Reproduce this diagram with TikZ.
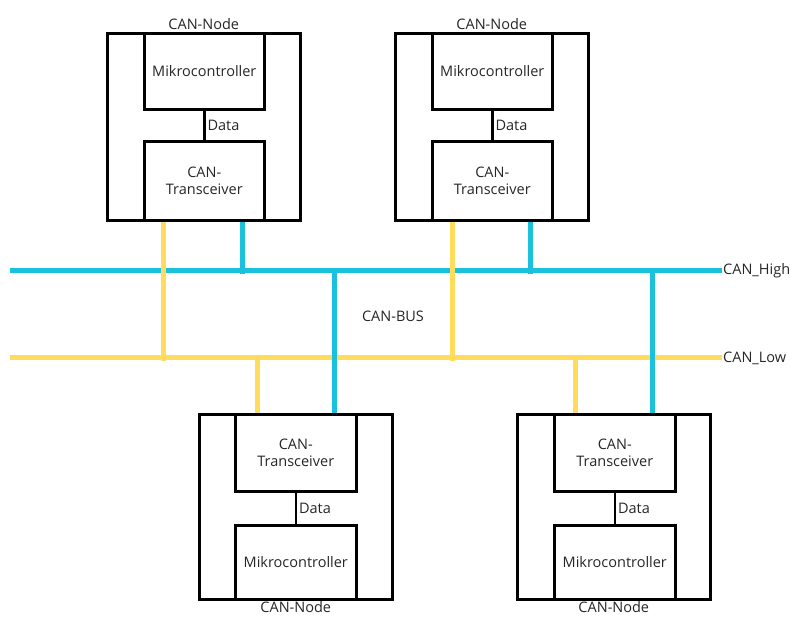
\documentclass[tikz,border=0pt]{standalone}
\usepackage{fontspec}
\setmainfont{Open Sans}
\definecolor{busblue}{HTML}{19C1DD}
\definecolor{busyellow}{HTML}{FFDC5C}
\begin{document}
\begin{tikzpicture}[x=1pt,y=-1pt,
  every node/.style={font=\fontsize{14.5}{17}\selectfont, text=black!85},
  frame/.style={draw=black, line width=2.6pt, inner sep=0pt, anchor=north west},
  wire/.style={line width=2.4pt, black},
  hi/.style={line width=5pt, busblue},
  lo/.style={line width=5pt, busyellow},
  lbl/.style={inner sep=0pt, align=center}]
\useasboundingbox (0,0) rectangle (793,617);

% ---- bus lines ----
\coordinate (hiL) at (10,271);
\coordinate (hiR) at (722,271);
\coordinate (loL) at (10,358);
\coordinate (loR) at (722,358);
\draw[hi] (hiL) -- (hiR);
\draw[lo] (loL) -- (loR);
\node[anchor=west, inner sep=1pt] (hlab) at (hiR) {CAN\_High};
\node[anchor=west, inner sep=1pt] (llab) at (loR) {CAN\_Low};
\node (bus) at (393,316) {CAN-BUS};

% ---- upper left node ----
\node[frame, minimum width=193pt, minimum height=187pt] (n1) at (106,32) {};
\node[frame, minimum width=120pt, minimum height=76pt] (m1) at (143,32) {};
\node[frame, minimum width=120pt, minimum height=79pt] (t1) at (143,140) {};
\node[lbl] at (m1.center) {Mikrocontroller};
\node[lbl] at (t1.center) {CAN-\\Transceiver};
\node[anchor=south, inner sep=2pt] at (n1.north) {CAN-Node};
\draw[wire] (m1.south) -- node[right, inner sep=2pt] {Data} (t1.north);

% ---- upper right node ----
\node[frame, minimum width=193pt, minimum height=187pt] (n2) at (394,32) {};
\node[frame, minimum width=120pt, minimum height=76pt] (m2) at (431,32) {};
\node[frame, minimum width=120pt, minimum height=79pt] (t2) at (431,140) {};
\node[lbl] at (m2.center) {Mikrocontroller};
\node[lbl] at (t2.center) {CAN-\\Transceiver};
\node[anchor=south, inner sep=2pt] at (n2.north) {CAN-Node};
\draw[wire] (m2.south) -- node[right, inner sep=2pt] {Data} (t2.north);

% ---- lower left node ----
\node[frame, minimum width=193pt, minimum height=185pt] (n3) at (198,413) {};
\node[frame, minimum width=121pt, minimum height=77pt] (t3) at (234,413) {};
\node[frame, minimum width=121pt, minimum height=74pt] (m3) at (234,524) {};
\node[lbl] at (t3.center) {CAN-\\Transceiver};
\node[lbl] at (m3.center) {Mikrocontroller};
\node[anchor=north, inner sep=1pt] at (n3.south) {CAN-Node};
\draw[wire] (t3.south) -- node[right, inner sep=2pt] {Data} (m3.north);

% ---- lower right node ----
\node[frame, minimum width=193pt, minimum height=185pt] (n4) at (516,413) {};
\node[frame, minimum width=121pt, minimum height=77pt] (t4) at (553,413) {};
\node[frame, minimum width=121pt, minimum height=74pt] (m4) at (553,524) {};
\node[lbl] at (t4.center) {CAN-\\Transceiver};
\node[lbl] at (m4.center) {Mikrocontroller};
\node[anchor=north, inner sep=1pt] at (n4.south) {CAN-Node};
\draw[wire] (t4.south) -- node[right, inner sep=2pt] {Data} (m4.north);

% ---- stubs from the upper nodes down to the bus ----
\draw[lo] ([xshift=20pt]t1.south west) -- ++(0,139);
\draw[lo] ([xshift=21pt]t2.south west) -- ++(0,139);
\draw[hi] ([xshift=99pt]t1.south west) -- ++(0,52);
\draw[hi] ([xshift=99pt]t2.south west) -- ++(0,52);

% ---- stubs from the bus down to the lower nodes ----
\draw[lo] ([xshift=23pt]t3.north west) -- ++(0,-55);
\draw[lo] ([xshift=22pt]t4.north west) -- ++(0,-55);
\draw[hi] ([xshift=100pt]t3.north west) -- ++(0,-142);
\draw[hi] ([xshift=99pt]t4.north west) -- ++(0,-142);
\end{tikzpicture}
\end{document}
